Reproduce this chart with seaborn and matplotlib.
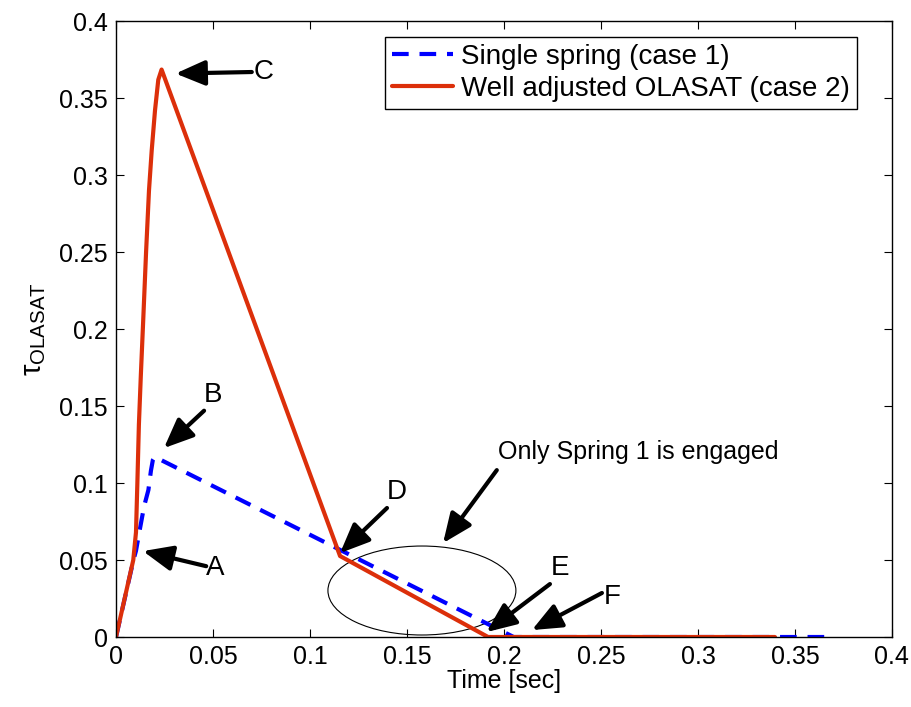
import matplotlib
matplotlib.use("Agg")
import matplotlib.pyplot as plt
from matplotlib.patches import Ellipse
import numpy as np
import pandas as pd
import seaborn as sns

# Torque response of the two spring configurations
t_single = [0.0, 0.009, 0.0103, 0.012, 0.0145, 0.0167, 0.018, 0.019, 0.020, 0.205, 0.366]
tau_single = [0.0, 0.05, 0.056, 0.068, 0.085, 0.0955, 0.108, 0.115, 0.117, 0.0, 0.0]

t_olasat = [0.0, 0.0089, 0.0103, 0.011, 0.0118, 0.0128, 0.0140, 0.0155, 0.017,
            0.0184, 0.0201, 0.0218, 0.0235, 0.1155, 0.1918, 0.3397]
tau_olasat = [0.0, 0.05, 0.068, 0.0995, 0.138, 0.170, 0.205, 0.25, 0.29,
              0.316, 0.342, 0.362, 0.3686, 0.0526, 0.0, 0.0]

series_names = ["Single spring (case 1)", "Well adjusted OLASAT (case 2)"]

tick_values = [0.0, 0.05, 0.1, 0.15, 0.2, 0.25, 0.3, 0.35, 0.4]
tick_labels = ["0", "0.05", "0.1", "0.15", "0.2", "0.25", "0.3", "0.35", "0.4"]

# Annotation labels: (text, text position, arrow tail, arrow tip)
point_labels = ["A", "B", "C", "D", "E", "F"]
label_pos = [(0.051, 0.0448), (0.050, 0.157), (0.0762, 0.367),
             (0.1448, 0.094), (0.229, 0.0448), (0.256, 0.026)]
arrow_tail = [(0.0465, 0.046), (0.0454, 0.147), (0.070, 0.367),
              (0.1397, 0.0838), (0.2237, 0.0344), (0.2505, 0.0286)]
arrow_tip = [(0.0139, 0.0558), (0.0247, 0.1227), (0.0307, 0.366),
             (0.1155, 0.0545), (0.191, 0.0032), (0.2144, 0.0045)]

region_text = "Only Spring 1 is engaged"
region_text_pos = (0.197, 0.120)
region_arrow_tail = (0.1963, 0.1084)
region_arrow_tip = (0.1686, 0.0610)
region_center = (0.1577, 0.0302)
region_size = (0.0969, 0.0578)

sns.set_style("white")
plt.rcParams["font.family"] = ["Liberation Sans", "DejaVu Sans"]
plt.rcParams["mathtext.fontset"] = "custom"
plt.rcParams["mathtext.rm"] = "Liberation Sans"
plt.rcParams["mathtext.it"] = "Liberation Sans"
plt.rcParams["mathtext.default"] = "regular"
for key in ["text.color", "axes.labelcolor", "xtick.color", "ytick.color"]:
    plt.rcParams[key] = "black"

df_single = pd.DataFrame({"t": t_single, "tau": tau_single})
df_olasat = pd.DataFrame({"t": t_olasat, "tau": tau_olasat})

fig = plt.figure(figsize=(9.12, 7.07), dpi=100)
ax = fig.add_axes([0.1272, 0.099, 0.8508, 0.871])

sns.lineplot(data=df_single, x="t", y="tau", ax=ax, color="#0000ff", lw=3,
             dashes=False, label=series_names[0], sort=False)
ax.lines[-1].set_dashes([4, 2.6])
sns.lineplot(data=df_olasat, x="t", y="tau", ax=ax, color="#dc2f0a", lw=3,
             label=series_names[1], sort=False)

ax.set_xlim(0, 0.4)
ax.set_ylim(0, 0.4)
ax.set_xticks(tick_values)
ax.set_xticklabels(tick_labels)
ax.set_yticks(tick_values)
ax.set_yticklabels(tick_labels)
ax.tick_params(direction="in", length=6, width=0.8, labelsize=18,
               top=True, right=True, bottom=True, left=True, pad=6,
               colors="black", labelcolor="black")
for s in ax.spines.values():
    s.set_color("black")
    s.set_linewidth(1.0)

ax.set_xlabel("Time [sec]", fontsize=18, labelpad=0, color="black")
ax.set_ylabel(r"$\tau_{OLASAT}$", fontsize=21, labelpad=8, color="black")

arrow_kw = dict(arrowstyle="-|>,head_length=0.75,head_width=0.32", lw=3.0,
                color="black", mutation_scale=24, shrinkA=0, shrinkB=0)
for lab, pos, tail, tip in zip(point_labels, label_pos, arrow_tail, arrow_tip):
    ax.annotate("", xy=tip, xytext=tail, arrowprops=arrow_kw)
    ax.text(pos[0], pos[1], lab, fontsize=20, ha="center", va="center", color="black")

ax.annotate("", xy=region_arrow_tip, xytext=region_arrow_tail, arrowprops=arrow_kw)
ax.text(region_text_pos[0], region_text_pos[1], region_text, fontsize=18,
        ha="left", va="center", color="black")
ax.add_patch(Ellipse(region_center, region_size[0], region_size[1],
                     fill=False, edgecolor="black", lw=0.8))

leg = ax.legend(loc="upper right", bbox_to_anchor=(0.955, 0.974), borderaxespad=0,
                fontsize=20, frameon=True, fancybox=False, framealpha=1,
                edgecolor="black", handlelength=2.2, handletextpad=0.3,
                borderpad=0.25, labelspacing=0.2)
leg.get_frame().set_linewidth(1.0)
leg.get_lines()[0].set_dashes([4, 2.6])
for txt in leg.get_texts():
    txt.set_color("black")

fig.savefig("out.png", dpi=100)
